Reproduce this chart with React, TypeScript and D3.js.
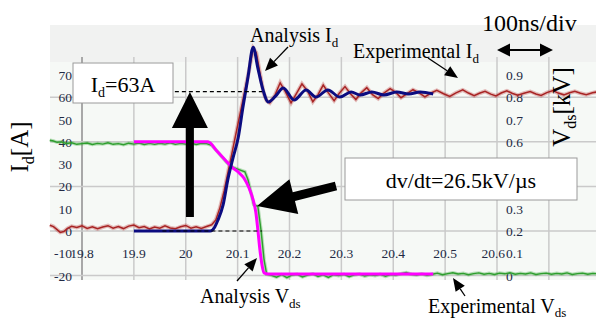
import React from 'react';
import * as d3 from 'd3';

// time axis (µs)
const timeTicks = [19.8, 19.9, 20, 20.1, 20.2, 20.3, 20.4, 20.5, 20.6];
const timeLabels = ['19.8', '19.9', '20', '20.1', '20.2', '20.3', '20.4', '20.5', '20.6'];
const timeGrid = [19.8, 19.9, 20, 20.1, 20.2, 20.3, 20.4, 20.5, 20.6, 20.7];
const idTicks = [70, 60, 50, 40, 30, 20, 10, 0, -10, -20];
const idGrid = [60, 40, 20, 0, -20];
// 0.5 and 0.4 sit under the dv/dt box
const vdsTicks = [0.9, 0.8, 0.7, 0.6, 0.3, 0.2, 0.1, 0];

// analysis Id [A]
const anaIdT = [19.9, 20.047, 20.056, 20.062, 20.072, 20.081, 20.091, 20.101, 20.110, 20.120, 20.130, 20.139, 20.149, 20.159, 20.173, 20.188, 20.209, 20.232, 20.251, 20.274, 20.297, 20.319, 20.336, 20.359, 20.382, 20.407, 20.430, 20.452, 20.477];
const anaIdV = [0, 0, 1.8, 4.9, 11.7, 22.9, 32.7, 41.7, 55.2, 69.1, 82.5, 73.1, 63.3, 57.9, 60.5, 64.2, 58.8, 63.3, 60.1, 63.3, 60.1, 62.4, 61.0, 62.4, 61.0, 62.4, 61.5, 62.4, 61.5];

// experimental Id [A]
const expIdT = [19.738, 19.745, 19.752, 19.758, 19.765, 19.772, 19.78, 19.79, 19.80, 19.81, 19.82, 19.83, 19.84, 19.85, 19.86, 19.87, 19.88, 19.89, 19.90, 19.91, 19.92, 19.93, 19.94, 19.95, 19.96, 19.97, 19.98, 19.99, 20.00, 20.01, 20.02, 20.03, 20.04, 20.05, 20.058, 20.066, 20.074, 20.082, 20.09, 20.098, 20.106, 20.114, 20.122, 20.130, 20.136, 20.143, 20.150, 20.156, 20.162, 20.172, 20.182, 20.192, 20.203, 20.213, 20.224, 20.235, 20.245, 20.255, 20.265, 20.275, 20.286, 20.296, 20.307, 20.318, 20.328, 20.338, 20.349, 20.36, 20.371, 20.382, 20.394, 20.405, 20.415, 20.426, 20.438, 20.45, 20.461, 20.472, 20.484, 20.497, 20.509, 20.521, 20.534, 20.545, 20.556, 20.566, 20.577, 20.588, 20.598, 20.608, 20.619, 20.63, 20.64, 20.652, 20.664, 20.675, 20.685, 20.696, 20.708, 20.718, 20.729, 20.74, 20.75, 20.761, 20.772, 20.784, 20.795];
const expIdV = [2.6, 2.0, 0.6, -0.6, -0.2, 1.2, 2.1, 1.6, 2.3, 1.2, 1.9, 1.0, 1.8, 2.4, 1.3, 2.0, 1.1, 2.2, 2.7, 1.5, 2.0, 0.9, 1.8, 1.3, 2.3, 1.4, 1.0, 1.9, 2.5, 1.3, 1.9, 1.2, 2.0, 2.8, 5.0, 10.5, 18, 27, 36, 45, 54, 63, 72, 82, 80, 71, 62, 58.5, 57.5, 61, 66.5, 62.5, 57.5, 61.5, 66.0, 62.8, 58.0, 61.2, 65.5, 62.0, 58.5, 61.8, 64.8, 61.5, 59.0, 62.0, 64.3, 61.2, 59.4, 61.9, 63.9, 62.2, 59.8, 61.5, 63.4, 62.0, 60.2, 61.8, 63.1, 61.6, 60.4, 62.0, 63.3, 61.9, 60.7, 61.8, 62.7, 61.4, 60.6, 61.9, 62.9, 61.7, 60.9, 61.8, 62.6, 61.5, 60.8, 62.1, 63.0, 61.9, 61.1, 62.0, 62.7, 61.8, 61.2, 62.0, 62.5];

// analysis Vds [kV]
const anaVdsT = [19.9, 20.043, 20.06, 20.076, 20.089, 20.101, 20.112, 20.122, 20.130, 20.135, 20.139, 20.143, 20.147, 20.151, 20.159, 20.477];
const anaVdsV = [0.6, 0.6, 0.559, 0.519, 0.487, 0.465, 0.438, 0.393, 0.339, 0.285, 0.205, 0.115, 0.048, 0.012, 0.007, 0.007];

// experimental Vds [kV]
const expVdsT = [19.738, 19.745, 19.752, 19.76, 19.77, 19.78, 19.79, 19.80, 19.81, 19.82, 19.83, 19.84, 19.85, 19.86, 19.87, 19.88, 19.89, 19.90, 19.91, 19.92, 19.93, 19.94, 19.95, 19.96, 19.97, 19.98, 19.99, 20.00, 20.01, 20.02, 20.03, 20.04, 20.05, 20.06, 20.07, 20.08, 20.089, 20.10, 20.114, 20.12, 20.126, 20.131, 20.139, 20.145, 20.151, 20.156, 20.165, 20.175, 20.185, 20.195, 20.205, 20.215, 20.225, 20.235, 20.245, 20.255, 20.265, 20.275, 20.285, 20.295, 20.305, 20.315, 20.325, 20.335, 20.345, 20.355, 20.365, 20.375, 20.385, 20.395, 20.405, 20.415, 20.425, 20.435, 20.445, 20.455, 20.465, 20.475, 20.485, 20.495, 20.505, 20.515, 20.525, 20.535, 20.545, 20.555, 20.565, 20.575, 20.585, 20.595, 20.605, 20.615, 20.625, 20.635, 20.645, 20.655, 20.665, 20.675, 20.685, 20.695, 20.705, 20.715, 20.725, 20.735, 20.745, 20.755, 20.765, 20.775, 20.785, 20.795];
const expVdsV = [0.607, 0.604, 0.598, 0.6, 0.593, 0.596, 0.589, 0.592, 0.595, 0.588, 0.593, 0.59, 0.596, 0.589, 0.592, 0.587, 0.594, 0.59, 0.595, 0.588, 0.593, 0.589, 0.594, 0.59, 0.596, 0.589, 0.593, 0.59, 0.595, 0.588, 0.594, 0.592, 0.585, 0.56, 0.532, 0.505, 0.488, 0.478, 0.466, 0.43, 0.37, 0.318, 0.31, 0.205, 0.07, 0.006, 0.001, -0.007, 0.004, -0.009, 0.003, 0.006, -0.006, 0.002, 0.008, -0.004, 0.003, -0.008, 0.004, 0.0, 0.006, -0.005, 0.003, 0.007, -0.002, 0.004, 0.0, 0.006, -0.003, 0.005, 0.002, 0.009, 0.014, 0.006, 0.003, 0.008, 0.001, 0.006, 0.011, 0.004, 0.009, 0.013, 0.007, 0.01, 0.004, 0.009, 0.012, 0.006, 0.01, 0.005, 0.011, 0.008, 0.013, 0.006, 0.01, 0.007, 0.012, 0.005, 0.009, 0.011, 0.006, 0.01, 0.007, 0.012, 0.005, 0.009, 0.011, 0.006, 0.01, 0.008];

const serif = '"Liberation Serif", "Times New Roman", serif';
const tickColor = '#222a44';

const zip = (t: number[], v: number[]) => t.map((d, i) => [d, v[i]] as [number, number]);

// polygon for a block arrow from tail to tip
function blockArrow(x1: number, y1: number, x2: number, y2: number, sw: number, hl: number, hw: number) {
  const len = Math.hypot(x2 - x1, y2 - y1);
  const ux = (x2 - x1) / len, uy = (y2 - y1) / len;
  const nx = -uy, ny = ux;
  const bx = x2 - ux * hl, by = y2 - uy * hl;
  const pts = [
    [x1 + nx * sw / 2, y1 + ny * sw / 2],
    [bx + nx * sw / 2, by + ny * sw / 2],
    [bx + nx * hw / 2, by + ny * hw / 2],
    [x2, y2],
    [bx - nx * hw / 2, by - ny * hw / 2],
    [bx - nx * sw / 2, by - ny * sw / 2],
    [x1 - nx * sw / 2, y1 - ny * sw / 2],
  ];
  return pts.map(p => p.join(',')).join(' ');
}

const Pointer = ({ x1, y1, x2, y2 }: { x1: number; y1: number; x2: number; y2: number }) => {
  const len = Math.hypot(x2 - x1, y2 - y1);
  const ux = (x2 - x1) / len, uy = (y2 - y1) / len;
  const bx = x2 - ux * 13, by = y2 - uy * 13;
  return (
    <g>
      <line x1={x1} y1={y1} x2={bx} y2={by} stroke="#000" strokeWidth={1.3} />
      <polygon points={blockArrow(bx, by, x2, y2, 0, 13, 11)} fill="#000" />
    </g>
  );
};

const App = () => {
  const W = 596, H = 321;
  const x = d3.scaleLinear().domain([19.8, 20.6]).range([82, 497]);
  const yI = d3.scaleLinear().domain([-20, 70]).range([275.6, 75]);
  const yV = d3.scaleLinear().domain([0, 0.9]).range([275.6, 75]);

  const lineI = d3.line<[number, number]>().x(d => x(d[0])).y(d => yI(d[1]));
  const lineV = d3.line<[number, number]>().x(d => x(d[0])).y(d => yV(d[1]));
  const smoothI = d3.line<[number, number]>().x(d => x(d[0])).y(d => yI(d[1])).curve(d3.curveMonotoneX);
  const smoothV = d3.line<[number, number]>().x(d => x(d[0])).y(d => yV(d[1])).curve(d3.curveMonotoneX);

  const left = 50, top = 25, plotTop = 62, bottom = 280;

  const upTail = yI(6.3), upTip = yI(62.4), upX = x(20.008);
  const level63 = yI(62.5);
  const lastTick = timeTicks.length - 1;

  return (
    <div style={{ position: 'absolute', left: 0, top: 0 }}>
      <svg width={W} height={H} style={{ display: 'block', background: '#fff' }} fontFamily={serif}>
        {/* backgrounds */}
        <rect x={left} y={top} width={W - left} height={plotTop - top} fill="#f1f2f1" />
        <rect x={left} y={plotTop} width={W - left} height={bottom - plotTop} fill="#f6f9f6" />

        {/* grid */}
        {timeGrid.map((t, i) => (
          <line key={'vg' + i} x1={x(t)} x2={x(t)} y1={57} y2={bottom}
            stroke={i === 0 ? '#a8a8a8' : '#cacaca'} strokeWidth={i === 0 ? 2 : 1.5} />
        ))}
        {idGrid.map(v => (
          <line key={'hg' + v} x1={left} x2={W} y1={yI(v)} y2={yI(v)} stroke="#cacaca" strokeWidth={1.5} />
        ))}

        {/* tick labels */}
        {idTicks.map(v => (
          <text key={'il' + v} x={72} y={yI(v) + 5} textAnchor="end" fontSize={13.5} fill={tickColor}>{v}</text>
        ))}
        {timeTicks.map((t, i) => (
          <text key={'tl' + i} x={i === lastTick ? x(t) + 8 : x(t)} y={yI(-10) + 5}
            textAnchor={i === lastTick ? 'end' : 'middle'} fontSize={13.5} fill={tickColor}>{timeLabels[i]}</text>
        ))}
        {vdsTicks.map(v => (
          <text key={'vl' + v} x={506} y={yV(v) + 5} fontSize={13.5} fill={tickColor}>{v}</text>
        ))}

        {/* experimental traces */}
        <path d={lineV(zip(expVdsT, expVdsV)) || ''} fill="none" stroke="rgba(60,170,60,0.35)" strokeWidth={3.5} />
        <path d={lineV(zip(expVdsT, expVdsV)) || ''} fill="none" stroke="#2e9e2e" strokeWidth={1.4} />
        <path d={lineI(zip(expIdT, expIdV)) || ''} fill="none" stroke="rgba(190,70,70,0.35)" strokeWidth={4} />
        <path d={lineI(zip(expIdT, expIdV)) || ''} fill="none" stroke="#a82424" strokeWidth={1.5} />

        {/* analysis traces */}
        <path d={smoothV(zip(anaVdsT, anaVdsV)) || ''} fill="none" stroke="#ff00ff" strokeWidth={3} strokeLinejoin="round" />
        <path d={smoothI(zip(anaIdT, anaIdV)) || ''} fill="none" stroke="#0c0c80" strokeWidth={3} strokeLinejoin="round" />

        {/* dashed reference levels */}
        <line x1={x(19.979)} x2={x(20.147)} y1={level63} y2={level63} stroke="#000" strokeWidth={1.2} strokeDasharray="4,3" />
        <line x1={x(19.955)} x2={x(20.147)} y1={yI(0)} y2={yI(0)} stroke="#000" strokeWidth={1.2} strokeDasharray="4,3" />

        {/* big arrows */}
        <polygon points={blockArrow(upX, upTail, upX, upTip, 8, 36, 36)} fill="#000" />
        <polygon points={blockArrow(336, 186, 257, 206, 9, 38, 36)} fill="#000" />

        {/* boxes */}
        <rect x={73} y={63} width={100} height={40} fill="#fff" stroke="#9a9a9a" strokeWidth={1} />
        <text x={123} y={92} textAnchor="middle" fontSize={22}>
          I<tspan dy={5} fontSize={14}>d</tspan><tspan dy={-5}>=63A</tspan>
        </text>
        <rect x={345} y={158} width={232} height={42} fill="#fff" stroke="#9a9a9a" strokeWidth={1} />
        <text x={461} y={188} textAnchor="middle" fontSize={22}>dv/dt=26.5kV/µs</text>

        {/* axis titles */}
        <text transform="translate(28,147) rotate(-90)" textAnchor="middle" fontSize={25}>
          I<tspan dy={6} fontSize={16}>d</tspan><tspan dy={-6}>[A]</tspan>
        </text>
        <text transform="translate(570,107) rotate(-90)" textAnchor="middle" fontSize={25}>
          V<tspan dy={6} fontSize={16}>ds</tspan><tspan dy={-6}>[kV]</tspan>
        </text>

        {/* time scale */}
        <text x={482} y={31} fontSize={24}>100ns/div</text>
        <line x1={508} x2={542} y1={50} y2={50} stroke="#000" strokeWidth={2} />
        <polygon points={blockArrow(520, 50, 497, 50, 0, 13, 13)} fill="#000" />
        <polygon points={blockArrow(530, 50, 553, 50, 0, 13, 13)} fill="#000" />

        {/* trace labels */}
        <text x={250} y={42} fontSize={20}>Analysis I<tspan dy={5} fontSize={13}>d</tspan></text>
        <Pointer x1={288} y1={47} x2={265} y2={71} />
        <text x={353} y={58} fontSize={20}>Experimental I<tspan dy={5} fontSize={13}>d</tspan></text>
        <Pointer x1={428} y1={58} x2={458} y2={78} />
        <text x={200} y={303} fontSize={20}>Analysis V<tspan dy={5} fontSize={13}>ds</tspan></text>
        <Pointer x1={237} y1={281} x2={257} y2={258} />
        <text x={428} y={313} fontSize={20}>Experimental V<tspan dy={4} fontSize={13}>ds</tspan></text>
        <Pointer x1={465} y1={296} x2={453} y2={278} />
      </svg>
    </div>
  );
};

export default App;
